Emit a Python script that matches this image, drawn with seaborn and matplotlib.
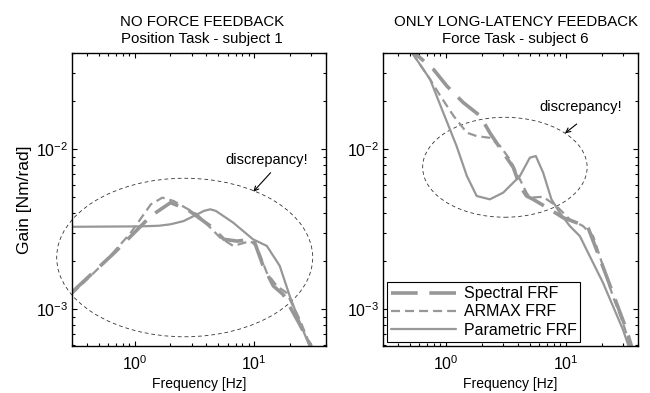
import matplotlib
matplotlib.use('Agg')
import matplotlib.pyplot as plt
from matplotlib.patches import Ellipse
from matplotlib.lines import Line2D
import pandas as pd
import seaborn as sns

# ---- data (frequency in Hz, gain in Nm/rad) ----
left_spectral_f = [0.3, 0.68, 1.37, 2.0, 2.76, 4.3, 5.6, 7.2, 9.9, 11.9, 14.5, 17.5, 24.0, 31.0]
left_spectral_g = [1.28e-3, 2.26e-3, 3.83e-3, 4.64e-3, 4.22e-3, 3.32e-3, 2.74e-3, 2.67e-3,
                   2.74e-3, 1.87e-3, 1.40e-3, 1.24e-3, 8.1e-4, 5.6e-4]

left_armax_f = [0.3, 0.56, 0.93, 1.37, 1.71, 2.13, 3.34, 5.2, 6.7, 9.3, 10.5, 12.8, 15.5, 18.7, 24.0, 30.5]
left_armax_g = [1.25e-3, 1.96e-3, 3.01e-3, 4.53e-3, 4.99e-3, 4.75e-3, 3.92e-3, 2.81e-3, 2.49e-3,
                2.67e-3, 2.49e-3, 1.69e-3, 1.40e-3, 1.27e-3, 8.7e-4, 5.6e-4]

left_param_f = [0.3, 1.13, 1.6, 2.0, 2.57, 3.34, 3.8, 4.3, 4.8, 6.7, 9.8, 12.8, 16.4, 19.9, 24.1, 30.0]
left_param_g = [3.28e-3, 3.30e-3, 3.33e-3, 3.40e-3, 3.56e-3, 3.92e-3, 4.12e-3, 4.22e-3, 4.12e-3,
                3.48e-3, 2.74e-3, 2.49e-3, 1.87e-3, 1.21e-3, 8.3e-4, 5.6e-4]

right_spectral_f = [0.45, 0.54, 0.79, 1.02, 1.40, 1.93, 2.33, 3.01, 3.65, 4.15, 4.71, 5.35, 7.36,
                    9.5, 12.3, 15.2, 18.0, 21.8, 26.4, 32.0, 36.0]
right_spectral_g = [0.046, 0.0405, 0.0316, 0.0249, 0.0196, 0.0162, 0.0127, 9.53e-3, 7.72e-3,
                    5.90e-3, 5.11e-3, 4.87e-3, 4.22e-3, 3.74e-3, 3.48e-3, 3.30e-3, 2.37e-3,
                    1.62e-3, 1.10e-3, 7.5e-4, 5.6e-4]

right_armax_f = [0.45, 0.52, 0.74, 0.90, 1.16, 1.50, 1.81, 2.33, 2.83, 3.42, 4.15, 4.71, 5.02,
                 6.48, 8.37, 10.8, 13.9, 16.9, 20.4, 24.7, 29.9, 36.0]
right_armax_g = [0.0475, 0.0405, 0.0274, 0.0216, 0.0162, 0.0127, 0.0121, 0.0118, 0.0105,
                 8.66e-3, 6.49e-3, 5.36e-3, 4.99e-3, 5.05e-3, 4.42e-3, 3.65e-3, 3.32e-3,
                 2.87e-3, 1.87e-3, 1.21e-3, 8.3e-4, 5.3e-4]

right_param_f = [0.45, 0.52, 0.74, 0.955, 1.23, 1.50, 1.81, 2.33, 3.01, 4.15, 5.02, 5.63, 6.48,
                 7.6, 8.91, 10.8, 13.1, 15.8, 20.4, 24.7, 29.9, 36.0]
right_param_g = [0.048, 0.0405, 0.0274, 0.0169, 0.0105, 6.81e-3, 5.11e-3, 4.87e-3, 5.36e-3,
                 6.81e-3, 8.87e-3, 9.08e-3, 7.15e-3, 4.87e-3, 4.02e-3, 3.32e-3, 2.87e-3,
                 2.16e-3, 1.47e-3, 1.05e-3, 7.5e-4, 5.0e-4]

series_names = ['Spectral FRF', 'ARMAX FRF', 'Parametric FRF']
titles = ['NO FORCE FEEDBACK\nPosition Task - subject 1',
          'ONLY LONG-LATENCY FEEDBACK\nForce Task - subject 6']

# ---- style ----
sns.set_style('ticks')
plt.rcParams['font.family'] = ['Liberation Sans', 'DejaVu Sans']
plt.rcParams['lines.scale_dashes'] = False
plt.rcParams['axes.linewidth'] = 1.0
for key in ['text.color', 'axes.labelcolor', 'xtick.color', 'ytick.color', 'axes.edgecolor']:
    plt.rcParams[key] = 'black'

gray = '#979797'
line_styles = {
    'Spectral FRF': dict(lw=2.6, ls=(0, (19.2, 8.4))),
    'ARMAX FRF': dict(lw=1.6, ls=(0, (6.5, 3.6))),
    'Parametric FRF': dict(lw=1.6, ls='-'),
}

def make_frame(spec_f, spec_g, arm_f, arm_g, par_f, par_g):
    parts = []
    for name, f, g in zip(series_names, [spec_f, arm_f, par_f], [spec_g, arm_g, par_g]):
        parts.append(pd.DataFrame({'freq': f, 'gain': g, 'series': name}))
    return pd.concat(parts, ignore_index=True)

left_df = make_frame(left_spectral_f, left_spectral_g, left_armax_f, left_armax_g,
                     left_param_f, left_param_g)
right_df = make_frame(right_spectral_f, right_spectral_g, right_armax_f, right_armax_g,
                      right_param_f, right_param_g)

fig = plt.figure(figsize=(6.5, 3.93), dpi=100)
ax1 = fig.add_axes([72 / 650, 1 - 346 / 393, 254 / 650, 293 / 393])
ax2 = fig.add_axes([383 / 650, 1 - 346 / 393, 255 / 650, 293 / 393])

for ax, df, title, tx in [(ax1, left_df, titles[0], 0.512), (ax2, right_df, titles[1], 0.52)]:
    ax.set_xscale('log')
    ax.set_yscale('log')
    for name in series_names:
        sub = df[df['series'] == name]
        st = line_styles[name]
        sns.lineplot(data=sub, x='freq', y='gain', ax=ax, color=gray, lw=st['lw'],
                     linestyle=st['ls'], errorbar=None, legend=False)
    ax.set_xlim(0.3, 40)
    ax.set_ylim(5.9e-4, 4.0e-2)
    ax.set_title(title, fontsize=10.8, pad=7.5, x=tx)
    ax.set_xlabel('Frequency [Hz]', fontsize=10, labelpad=3)
    ax.set_ylabel('')
    ax.tick_params(which='both', direction='in', top=True, right=True, labelsize=11.5,
                   width=0.8)
    ax.tick_params(axis='x', which='both', pad=6)
    ax.tick_params(axis='y', which='both', pad=2.5)
    ax.tick_params(which='major', length=3.5)
    ax.tick_params(which='minor', length=2)

ax1.set_ylabel('Gain [Nm/rad]', fontsize=12.5, labelpad=3)

# discrepancy ellipses and notes
ax1.add_patch(Ellipse((0.4437, 0.302), 1.008, 0.541, transform=ax1.transAxes, fill=False,
                      ec='#333333', lw=0.6, ls=(0, (2.7, 2.1)), clip_on=False))
ax2.add_patch(Ellipse((0.478, 0.610), 0.645, 0.341, transform=ax2.transAxes, fill=False,
                      ec='#333333', lw=0.6, ls=(0, (2.7, 2.1)), clip_on=False))

ax1.text(0.7665, 0.635, 'discrepancy!', transform=ax1.transAxes, ha='center', va='center',
         fontsize=10.5)
ax1.annotate('', xy=(0.7138, 0.5266), xytext=(0.782, 0.5915), xycoords='axes fraction',
             textcoords='axes fraction',
             arrowprops=dict(arrowstyle='->', color='black', lw=0.8, mutation_scale=8,
                             shrinkA=0, shrinkB=0))
ax2.text(0.775, 0.8147, 'discrepancy!', transform=ax2.transAxes, ha='center', va='center',
         fontsize=10.5)
ax2.annotate('', xy=(0.7137, 0.726), xytext=(0.7596, 0.7577), xycoords='axes fraction',
             textcoords='axes fraction',
             arrowprops=dict(arrowstyle='->', color='black', lw=0.8, mutation_scale=8,
                             shrinkA=0, shrinkB=0))

handles = [Line2D([], [], color=gray, lw=line_styles[n]['lw'], ls=line_styles[n]['ls'])
           for n in series_names]
leg = ax2.legend(handles, series_names, loc='lower left', bbox_to_anchor=(0.017, 0.015),
                 borderaxespad=0, fontsize=11.5, handlelength=4.07, handletextpad=0.45,
                 labelspacing=0.2, borderpad=0.25, fancybox=False, framealpha=1,
                 edgecolor='black')
leg.get_frame().set_linewidth(0.8)

fig.savefig('out.png', dpi=100)
